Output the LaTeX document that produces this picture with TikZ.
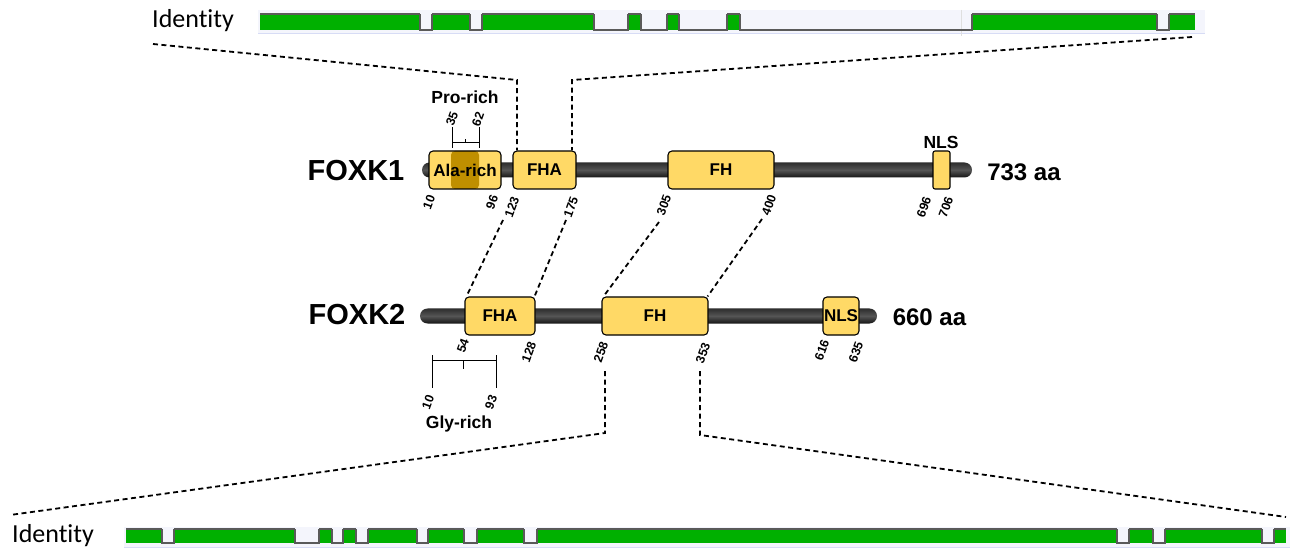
\documentclass[tikz,border=0pt]{standalone}
\usepackage{fontspec}
\setmainfont{Liberation Sans}
\newfontfamily\calib[Ligatures=NoCommon]{Carlito}
\definecolor{domfill}{RGB}{255,217,102}
\definecolor{aladark}{RGB}{191,143,0}
\definecolor{grn}{RGB}{0,176,0}
\definecolor{bgc}{RGB}{244,245,252}
\definecolor{bline}{RGB}{215,220,245}
\definecolor{pline}{RGB}{90,90,90}
\definecolor{rodtop}{RGB}{45,45,45}
\definecolor{rodmid}{RGB}{85,85,85}
\definecolor{rodbot}{RGB}{20,20,20}
\begin{document}
\begin{tikzpicture}[x=1pt,y=-1pt,
  dom/.style={draw=black, line width=1.1pt, fill=domfill, rounded corners=4pt, inner sep=0pt,
    font=\fontsize{17}{17}\selectfont\bfseries, minimum height=38pt},
  num/.style={rotate=70, font=\fontsize{12.5}{12.5}\selectfont\bfseries, inner sep=0pt},
  conn/.style={dash pattern=on 5pt off 3.5pt, line width=1.8pt},
  ttl/.style={font=\fontsize{29}{29}\selectfont\bfseries, inner sep=0pt},
  len/.style={font=\fontsize{24}{24}\selectfont\bfseries, inner sep=0pt},
  lbl/.style={font=\fontsize{17.5}{17.5}\selectfont\bfseries, inner sep=0pt},
  idt/.style={font=\calib\fontsize{26}{26}\selectfont, inner sep=0pt, anchor=base west},
  brk/.style={line width=1pt},
  prof/.style={draw=pline, line width=1.2pt},
  rod/.style={rounded corners=7.5pt, top color=rodtop, bottom color=rodbot, middle color=rodmid}
]
\useasboundingbox (0,0) rectangle (1294,548);

% ---------- top identity bar ----------
\node[idt] (idtop) at (152,28) {Identity};
\fill[bgc] (258,10) rectangle (1205,33);
\draw[bline, line width=1pt] (258,33.5) -- (1205,33.5);
\draw[gray!25, line width=0.8pt] (961,10) -- (961,36);
\foreach \a/\b in {260/420,432/470,482/594,628/641,667/679,727/740,972/1157,1169/1195}{
  \fill[grn] (\a,14) rectangle (\b,30);
  \draw[prof] (\a,14) -- (\b,14);
}
\foreach \a/\b in {420/432,470/482,594/628,641/667,679/727,740/972,1157/1169}{
  \draw[prof] (\a,14) -- (\a,30) -- (\b,30) -- (\b,14);
}

% ---------- bottom identity bar ----------
\node[idt] (idbot) at (12,542) {Identity};
\fill[bgc] (124,527) rectangle (1290,547);
\draw[bline, line width=1pt] (124,547) -- (1290,547);
\foreach \a/\b in {126/162,174/295,319/332,343/356,368/417,428/464,477/524,537/1117,1129/1153,1165/1262,1274/1286}{
  \fill[grn] (\a,529) rectangle (\b,543);
  \draw[prof] (\a,529) -- (\b,529);
}
\foreach \a/\b in {162/174,295/319,332/343,356/368,417/428,464/477,524/537,1117/1129,1153/1165,1262/1274}{
  \draw[prof] (\a,529) -- (\a,543) -- (\b,543) -- (\b,529);
}

% ---------- rods ----------
\shade[rod] (422,162.5) rectangle (972,177.5);
\shade[rod] (420,308.5) rectangle (877,323.5);

% ---------- FOXK1 ----------
\node[ttl] (foxk1) at (356,170.5) {FOXK1};
\node[dom, minimum width=72pt,
  path picture={\fill[aladark] ([xshift=-14pt]path picture bounding box.south) rectangle ([xshift=14pt]path picture bounding box.north);}]
  (ala) at (465,170) {Ala-rich};
\node[dom, minimum width=63pt] (fha1) at (544.5,170) {FHA};
\node[dom, minimum width=106pt] (fh1) at (721,170) {FH};
\node[dom, minimum width=17pt, rounded corners=2pt] (nls1) at (941.5,170) {};
\node[lbl] (nlslab) at (941,142) {NLS};
\node[len] (len1) at (1024,172) {733 aa};

\node[lbl] (pro) at (465,97) {Pro-rich};
\draw[brk] (452,127) -- (452,148) (479,127) -- (479,148) (452,143) -- (479,143) (465.5,139.5) -- (465.5,143);
\node[num] (n35) at (452,119) {35};
\node[num] (n62) at (478,119) {62};

\node[num] (n10a) at (429,202) {10};
\node[num] (n96) at (492,202) {96};
\node[num] (n123) at (512,207) {123};
\node[num] (n175) at (571,207) {175};
\node[num] (n305) at (664,205) {305};
\node[num] (n400) at (769,205) {400};
\node[num] (n696) at (924,207) {696};
\node[num] (n706) at (946,207) {706};

% ---------- FOXK2 ----------
\node[ttl] (foxk2) at (357,315) {FOXK2};
\node[dom, minimum width=70pt] (fha2) at (500,316) {FHA};
\node[dom, minimum width=106pt] (fh2) at (655,316) {FH};
\node[dom, minimum width=36pt] (nls2) at (841,316) {NLS};
\node[len] (len2) at (929.5,317) {660 aa};

\node[num] (n54) at (463,346) {54};
\node[num] (n128) at (529,352) {128};
\node[num] (n258) at (601,352) {258};
\node[num] (n353) at (703,353) {353};
\node[num] (n616) at (822,350) {616};
\node[num] (n635) at (856,352) {635};

\draw[brk] (432,355) -- (432,388) (496,355) -- (496,388) (432,360) -- (496,360) (463,360) -- (463,369);
\node[num] (n10b) at (428,402) {10};
\node[num] (n93) at (491,402) {93};
\node[lbl] (gly) at (459,424) {Gly-rich};

% ---------- connectors ----------
\coordinate (tl) at (153,44);
\coordinate (tlk) at (517,80);
\coordinate (tr) at (1192,37);
\coordinate (trk) at (572,80);
\draw[conn] (tl) -- (tlk) -- (tlk |- fha1.north);
\draw[conn] (tr) -- (trk) -- (trk |- fha1.north);

\coordinate (m1) at (503,220);
\coordinate (m2) at (566,220);
\coordinate (m3) at (659,222);
\coordinate (m4) at (762,219);
\draw[conn] (m1) -- ([xshift=2pt]fha2.north west);
\draw[conn] (m2) -- ([xshift=-1pt]fha2.north east);
\draw[conn] (m3) -- ([xshift=2pt]fh2.north west);
\draw[conn] (m4) -- ([xshift=-1pt]fh2.north east);

\coordinate (b1) at (605,371);
\coordinate (b1k) at (605,433);
\coordinate (bl) at (10,515);
\coordinate (b2) at (700,371);
\coordinate (b2k) at (700,435);
\coordinate (br) at (1286,517);
\draw[conn] (b1) -- (b1k) -- (bl);
\draw[conn] (b2) -- (b2k) -- (br);
\end{tikzpicture}
\end{document}
